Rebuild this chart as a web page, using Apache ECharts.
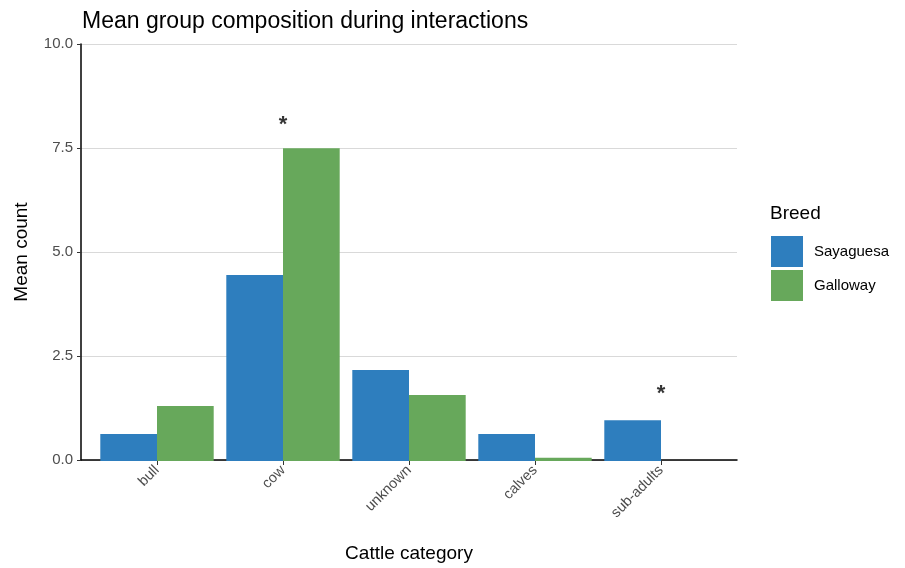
<!DOCTYPE html>
<html>
<head>
<meta charset="utf-8">
<script src="https://cdn.jsdelivr.net/npm/echarts@6/dist/echarts.min.js"></script>
<style>html,body{margin:0;padding:0;background:#fff}#c{width:905px;height:568px}</style>
</head>
<body>
<div id="c"></div>
<script>
const categories = ['bull', 'cow', 'unknown', 'calves', 'sub-adults'];
const sayaguesa = [0.65, 4.46, 2.18, 0.65, 0.98];
const galloway = [1.32, 7.5, 1.58, 0.08, 0];
const asteriskY = [null, 8.05, null, null, 1.6];
const yTicks = [0, 2.5, 5, 7.5, 10];

const FONT = '"Liberation Sans", Arial, sans-serif';
const chart = echarts.init(document.getElementById('c'), null, {renderer: 'canvas'});
chart.setOption({
  animation: false,
  backgroundColor: '#fff',
  title: [
    {text: 'Mean group composition during interactions', left: 77, top: 5,
     textStyle: {fontFamily: FONT, fontSize: 23, fontWeight: 'normal', color: '#000'}},
    {text: 'Breed', left: 765, top: 199,
     textStyle: {fontFamily: FONT, fontSize: 19, fontWeight: 'normal', color: '#000'}}
  ],
  legend: {
    orient: 'vertical', left: 766, top: 231,
    itemWidth: 32, itemHeight: 31, itemGap: 3,
    icon: 'rect',
    data: ['Sayaguesa', 'Galloway'],
    textStyle: {fontFamily: FONT, fontSize: 15, color: '#000', padding: [0, 0, 0, 6]}
  },
  grid: [
    {left: 81, right: 168, top: 44, bottom: 107},
    {left: 94, right: 181, top: 44, bottom: 107}
  ],
  xAxis: [
    {type: 'category', gridIndex: 0, data: categories,
     axisLine: {show: true, lineStyle: {color: '#000', width: 1.5}},
     axisTick: {show: false}, axisLabel: {show: false}, splitLine: {show: false},
     name: 'Cattle category', nameLocation: 'middle', nameGap: 84,
     nameTextStyle: {fontFamily: FONT, fontSize: 19, color: '#000'}},
    {type: 'category', gridIndex: 1, data: categories,
     axisLine: {show: false},
     axisTick: {show: true, alignWithLabel: true, length: 4, lineStyle: {color: '#333'}},
     axisLabel: {rotate: 45, margin: 7, fontFamily: FONT, fontSize: 14.5, color: '#4d4d4d'},
     splitLine: {show: false}}
  ],
  yAxis: [
    {type: 'value', gridIndex: 0, min: 0, max: 10, interval: 2.5,
     axisLine: {show: true, lineStyle: {color: '#000', width: 1.5}},
     axisTick: {show: true, length: 4, lineStyle: {color: '#333'}},
     axisLabel: {fontFamily: FONT, fontSize: 15, color: '#4d4d4d', margin: 8,
       formatter: v => yTicks.includes(v) ? v.toFixed(1) : ''},
     splitLine: {show: true, lineStyle: {color: '#d9d9d9', width: 1}},
     name: 'Mean count', nameLocation: 'middle', nameGap: 50,
     nameTextStyle: {fontFamily: FONT, fontSize: 19, color: '#000'}},
    {type: 'value', gridIndex: 1, min: 0, max: 10, interval: 2.5, show: false}
  ],
  series: [
    {name: 'Sayaguesa', type: 'bar', xAxisIndex: 1, yAxisIndex: 1, data: sayaguesa,
     barGap: '0%', barCategoryGap: '10%', itemStyle: {color: '#2e7ebe'}},
    {name: 'Galloway', type: 'bar', xAxisIndex: 1, yAxisIndex: 1, data: galloway,
     barGap: '0%', barCategoryGap: '10%', itemStyle: {color: '#67a85b'}},
    {name: 'sig', type: 'scatter', xAxisIndex: 1, yAxisIndex: 1, data: asteriskY,
     symbol: 'circle', symbolSize: 2, itemStyle: {color: 'rgba(0,0,0,0)'},
     silent: true,
     label: {show: true, position: 'inside', formatter: '*', fontFamily: FONT,
       fontSize: 22, fontWeight: 'bold', color: '#000'}}
  ]
});
</script>
</body>
</html>
